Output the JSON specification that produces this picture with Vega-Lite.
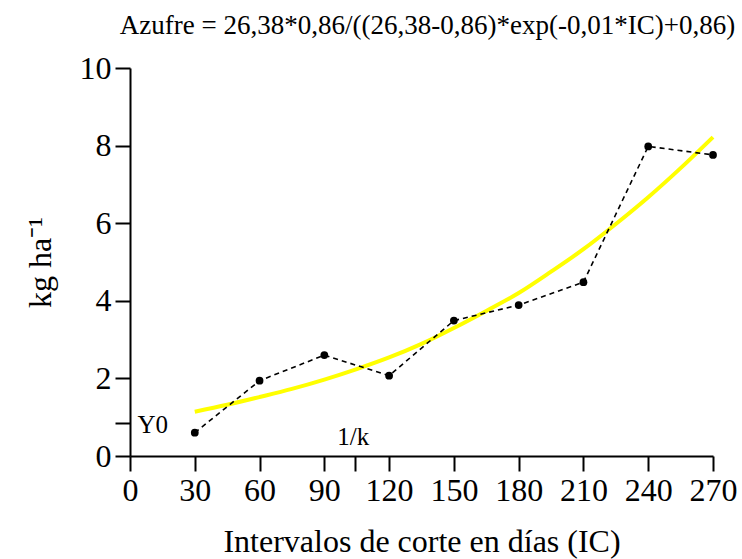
{
  "$schema": "https://vega.github.io/schema/vega-lite/v6.json",
  "autosize": {"type": "none"},
  "padding": {"left": 130, "top": 68, "right": 29, "bottom": 103},
  "width": 583,
  "height": 388,
  "background": "white",
  "title": {
    "text": "Azufre = 26,38*0,86/((26,38-0,86)*exp(-0,01*IC)+0,86)",
    "font": "Liberation Serif",
    "fontSize": 27,
    "fontWeight": "normal",
    "color": "black",
    "frame": "group",
    "anchor": "middle",
    "dx": 6,
    "offset": 12
  },
  "config": {
    "view": {"stroke": null},
    "axis": {
      "labelFont": "Liberation Serif",
      "titleFont": "Liberation Serif",
      "labelFontSize": 32,
      "titleFontSize": 32,
      "titleFontWeight": "normal",
      "labelColor": "black",
      "titleColor": "black",
      "domainColor": "black",
      "tickColor": "black",
      "domainWidth": 2,
      "tickWidth": 2,
      "tickSize": 15,
      "grid": false,
      "labelPadding": 4,
      "labelFlush": false,
      "labelOverlap": false
    }
  },
  "datasets": {
    "obs": [
      {"IC": 30, "v": 0.60},
      {"IC": 60, "v": 1.94},
      {"IC": 90, "v": 2.60},
      {"IC": 120, "v": 2.07},
      {"IC": 150, "v": 3.49},
      {"IC": 180, "v": 3.89},
      {"IC": 210, "v": 4.48},
      {"IC": 240, "v": 7.98},
      {"IC": 270, "v": 7.76}
    ],
    "fit": [
      {"IC": 30, "v": 1.14},
      {"IC": 45, "v": 1.32},
      {"IC": 60, "v": 1.52},
      {"IC": 75, "v": 1.73},
      {"IC": 90, "v": 1.97},
      {"IC": 105, "v": 2.24},
      {"IC": 120, "v": 2.54},
      {"IC": 135, "v": 2.89},
      {"IC": 150, "v": 3.30},
      {"IC": 165, "v": 3.74},
      {"IC": 180, "v": 4.20},
      {"IC": 195, "v": 4.75},
      {"IC": 210, "v": 5.33},
      {"IC": 225, "v": 5.98},
      {"IC": 240, "v": 6.67},
      {"IC": 255, "v": 7.42},
      {"IC": 270, "v": 8.22}
    ],
    "labels": [
      {"IC": 3.5, "v": 0.8, "t": "Y0"},
      {"IC": 96, "v": 0.49, "t": "1/k"}
    ]
  },
  "layer": [
    {
      "data": {"name": "fit"},
      "mark": {"type": "line", "color": "#FFFF00", "strokeWidth": 4, "interpolate": "monotone"},
      "encoding": {
        "x": {
          "field": "IC", "type": "quantitative",
          "scale": {"domain": [0, 270], "nice": false, "zero": false},
          "axis": {
            "values": [0, 30, 60, 90, 104, 120, 150, 180, 210, 240, 270],
            "labelExpr": "datum.value == 104 ? '' : datum.label",
            "title": "Intervalos de corte en días (IC)",
            "titlePadding": 20
          }
        },
        "y": {
          "field": "v", "type": "quantitative",
          "scale": {"domain": [0, 10], "nice": false},
          "axis": {
            "values": [0, 0.86, 2, 4, 6, 8, 10],
            "labelExpr": "datum.value == 0.86 ? '' : datum.label",
            "title": "kg ha⁻¹",
            "titlePadding": 22
          }
        }
      }
    },
    {
      "data": {"name": "obs"},
      "mark": {"type": "line", "color": "black", "strokeWidth": 1.6, "strokeDash": [5, 4]},
      "encoding": {
        "x": {"field": "IC", "type": "quantitative"},
        "y": {"field": "v", "type": "quantitative"}
      }
    },
    {
      "data": {"name": "obs"},
      "mark": {"type": "point", "filled": true, "color": "black", "opacity": 1, "size": 60},
      "encoding": {
        "x": {"field": "IC", "type": "quantitative"},
        "y": {"field": "v", "type": "quantitative"}
      }
    },
    {
      "data": {"name": "labels"},
      "mark": {"type": "text", "font": "Liberation Serif", "fontSize": 25, "align": "left", "baseline": "middle", "color": "black"},
      "encoding": {
        "x": {"field": "IC", "type": "quantitative"},
        "y": {"field": "v", "type": "quantitative"},
        "text": {"field": "t"}
      }
    }
  ]
}
